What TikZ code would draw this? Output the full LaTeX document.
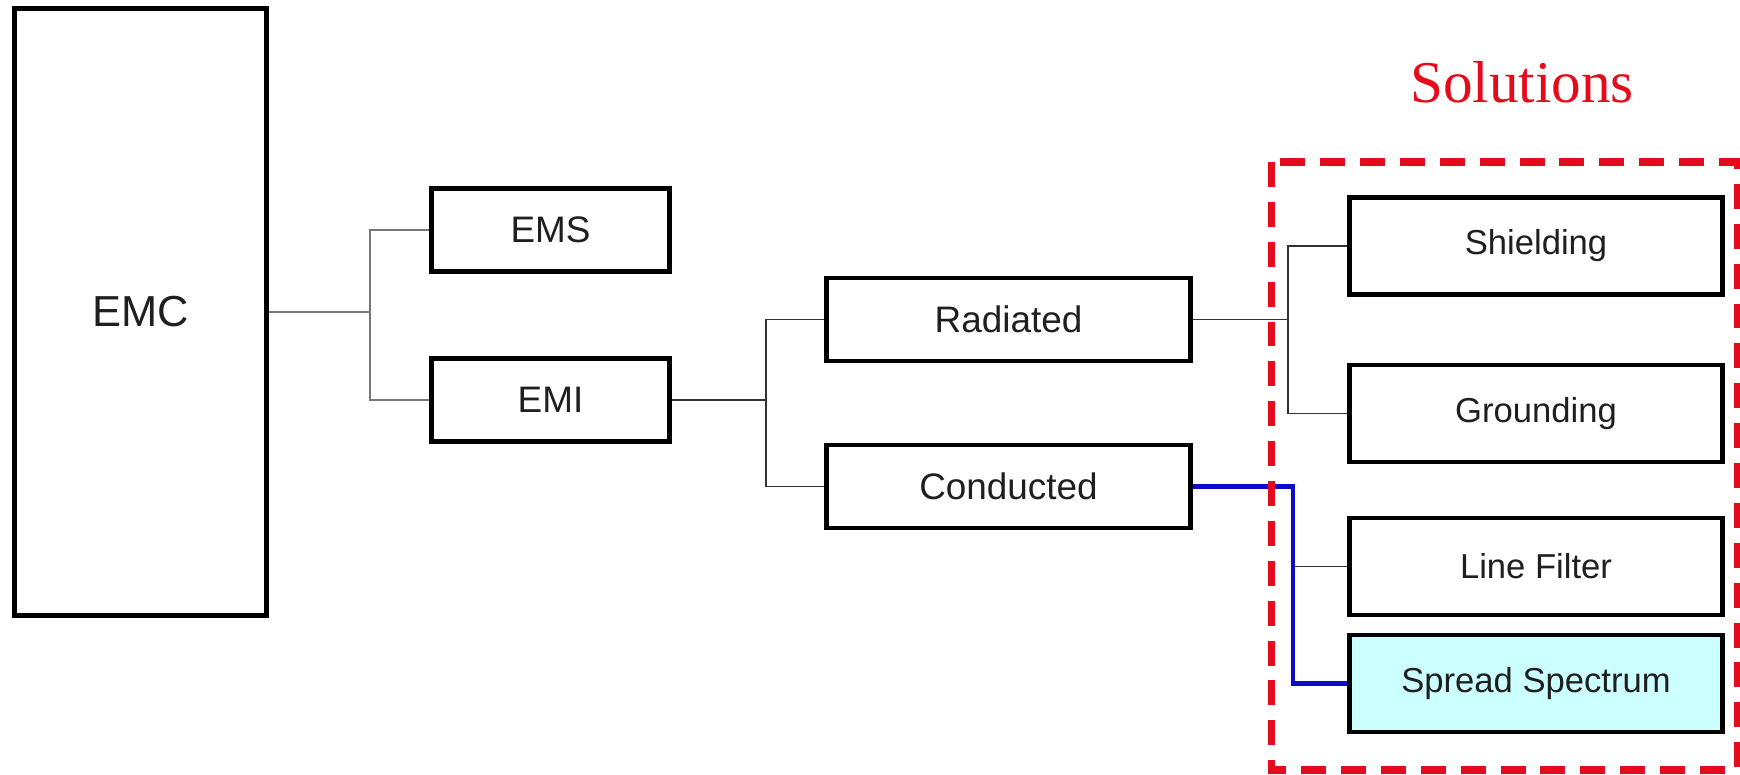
\documentclass[tikz,border=0pt]{standalone}
\usepackage{fontspec}
\setmainfont{Liberation Sans}
\newfontfamily\solfont{Liberation Serif}
\usetikzlibrary{calc}
\definecolor{specfill}{RGB}{204,255,255}
\definecolor{linkgray}{RGB}{120,120,120}
\definecolor{solred}{RGB}{228,12,28}
\definecolor{linkblue}{RGB}{12,12,200}

\begin{document}
\begin{tikzpicture}[
  x=0.02cm, y=-0.02cm,
  box/.style={draw, line width=2.8pt, minimum width=4.76cm,
              minimum height=1.66cm, inner sep=0pt, text=black!88,
              font=\fontsize{21}{24}\selectfont},
  midbox/.style={box, minimum width=7.28cm},
  solbox/.style={box, minimum width=7.46cm, minimum height=1.94cm,
                 font=\fontsize{19.7}{23}\selectfont},
  link/.style={line width=0.6pt, black!80},
  emclink/.style={line width=0.6pt, linkgray},
  bluelink/.style={line width=2.5pt, linkblue},
  solframe/.style={draw=solred, line width=4pt,
                   dash pattern=on 14.2pt off 8.5pt},
]
\useasboundingbox (0,0) rectangle (1740,774);

\def\fa{370}   % fork after EMC
\def\fb{766}   % fork after EMI
\def\fc{1288}  % fork after Radiated
\def\fd{1293}  % fork after Conducted

%% --- Tree of boxes ---
\node[box, minimum width=5.04cm, minimum height=12.15cm,
      font=\fontsize{24.7}{28}\selectfont] (emc) at (140.5,312) {EMC};
\node[box] (ems) at (550.5,230) {EMS};
\node[box] (emi) at (550.5,400) {EMI};
\node[midbox] (rad)  at (1008.5,319.5) {Radiated};
\node[midbox] (cond) at (1008.5,486.5) {Conducted};

%% --- Solutions ---
\node[solbox] (shield) at (1536,246)   {Shielding};
\node[solbox] (ground) at (1536,413.5) {Grounding};
\node[solbox] (filter) at (1536,566.5) {Line Filter};
\node[solbox, fill=specfill] (spread) at (1536,683.5) {Spread Spectrum};
\node[anchor=base, text=solred, font=\solfont\fontsize{33.7}{38}\selectfont]
  (soltitle) at (1522,102) {Solutions};

%% --- Connectors ---
\coordinate (ka) at (\fa,312);
\coordinate (kb) at (\fb,400);
\coordinate (kc) at (\fc,319.5);
\coordinate (kd) at (\fd,486.5);
\draw[emclink] (emc.east) -- (ka);
\draw[emclink] (ems.west) -| (ka) |- (emi.west);
\draw[link] (emi.east) -- (kb);
\draw[link] (rad.west) -| (kb) |- (cond.west);
\draw[link] (rad.east) -- (kc);
\draw[link] (shield.west) -| (kc) |- (ground.west);
\draw[link] (filter.west) -- (filter.west -| kd);
\draw[bluelink] (cond.east) -- (kd) |- (spread.west);

%% --- Dashed frame round the solutions ---
\draw[solframe] (1271,162) rectangle (1737,770);

\end{tikzpicture}
\end{document}
